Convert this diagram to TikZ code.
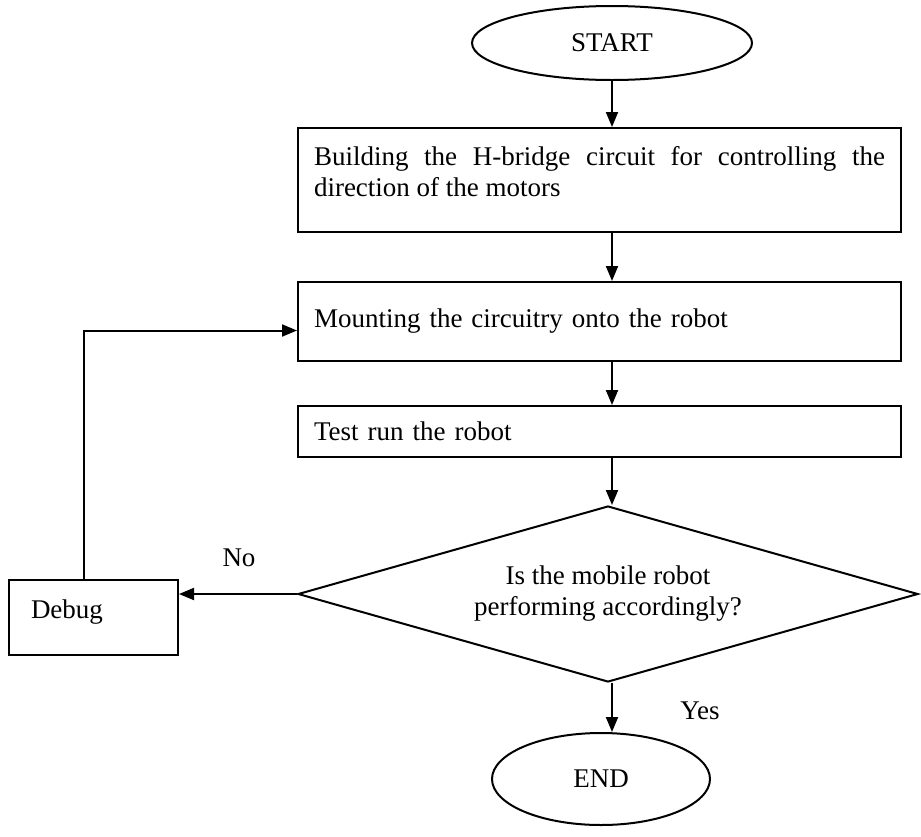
\documentclass[tikz,border=0pt]{standalone}
\usepackage{fontspec}
\setmainfont{Liberation Serif}
\usetikzlibrary{shapes.geometric,arrows.meta}
\tikzset{
	flow/.style={line width=2pt,-{Triangle[length=15pt,width=12pt]}},
	term/.style={draw,ellipse,line width=2pt,inner sep=0pt},
	stepbox/.style={draw,rectangle,line width=2pt,inner xsep=16pt,inner ysep=0pt},
	query/.style={draw,diamond,line width=2pt,inner sep=0pt,align=center,aspect=3.52}
}
\begin{document}
\begin{tikzpicture}[x=1pt,y=-1pt,font=\fontsize{27}{31}\selectfont]
	\useasboundingbox (0,0) rectangle (921,836);
	\node[term,minimum width=280pt,minimum height=74pt] (start) at (612,43) {START};
	\node[stepbox,minimum width=603pt,minimum height=104pt,text width=571pt,align=justify] (build) at (599.5,180)
		{Building the H-bridge circuit for controlling the\linebreak direction of the motors\\[-14pt]\mbox{}};
	\node[stepbox,minimum width=603pt,minimum height=79pt,text width=571pt,align=left] (mount) at (599.5,321.5)
		{Mounting the circuitry onto the robot};
	\node[stepbox,minimum width=603pt,minimum height=51pt,text width=571pt,align=left] (test) at (599.5,431.5)
		{Test run the robot};
	\node[query,minimum width=620pt,minimum height=176pt] (check) at (608,594)
		{Is the mobile robot\\performing accordingly?};
	\node[stepbox,minimum width=169pt,minimum height=75pt,text width=125pt,align=left,inner xsep=22pt] (debug) at (93.5,617.5)
		{Debug\\[-14pt]\mbox{}};
	\node[term,minimum width=218pt,minimum height=92pt] (end) at (601,779) {END};
	% flow down the page
	\draw[flow] (start.south) -- (start |- build.north);
	\draw[flow] (build.south -| start) -- (start |- mount.north);
	\draw[flow] (mount.south -| start) -- (start |- test.north);
	\draw[flow] (test.south -| start) -- (start |- check.north);
	\draw[flow] (check.south -| start) -- (start |- end.north);
	% the No branch
	\draw[flow] (check.west) -- (check.west -| debug.east);
	\draw[flow] ([xshift=-10pt]debug.north) |- ([yshift=-9pt]mount.west);
	\node (no) at (239,558) {No};
	\node (yes) at (700,711) {Yes};
\end{tikzpicture}
\end{document}
